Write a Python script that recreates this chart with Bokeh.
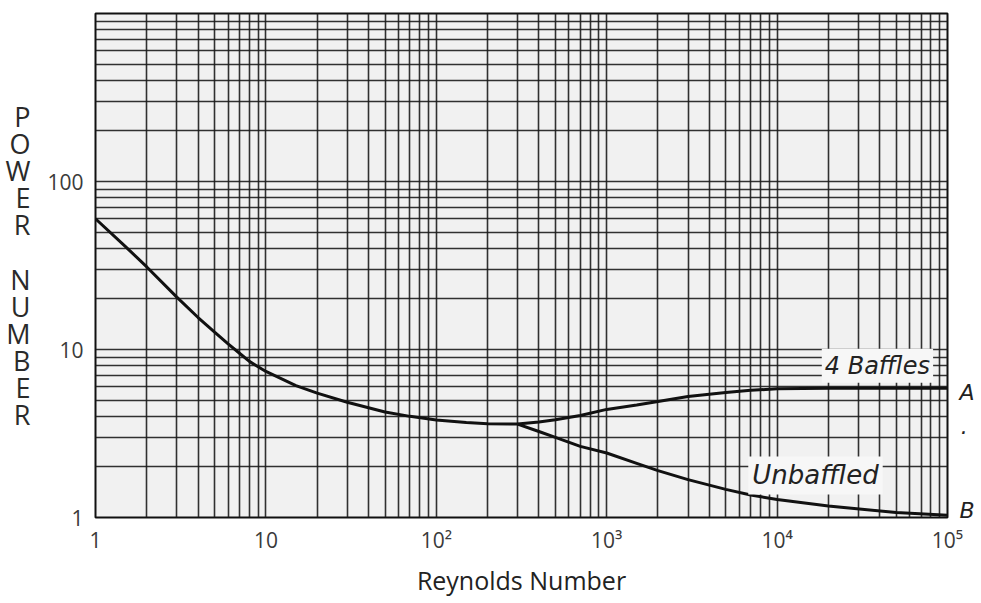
from bokeh.plotting import figure
from bokeh.models import Range1d, FixedTicker, Label, LogAxis
from bokeh.embed import file_html
from bokeh.resources import INLINE

# ---- data ----
re_common = [1, 1.5, 2, 3, 4, 5, 6, 7, 8, 10, 15, 20, 30, 50, 70, 100, 150, 200, 300]
np_common = [60, 41, 31, 20.5, 15.5, 12.7, 10.8, 9.5, 8.5, 7.4, 6.1, 5.5, 4.85, 4.25,
             4.0, 3.8, 3.68, 3.62, 3.6]

re_branch = [300, 400, 500, 700, 1000, 1500, 2000, 3000, 5000, 7000, 10000, 20000,
             50000, 100000]
np_baffled = [3.6, 3.7, 3.82, 4.05, 4.4, 4.68, 4.9, 5.25, 5.55, 5.72, 5.83, 5.88,
              5.88, 5.88]
np_unbaffled = [3.6, 3.25, 3.0, 2.65, 2.42, 2.1, 1.9, 1.68, 1.47, 1.36, 1.28, 1.17,
                1.07, 1.03]

x_ticks = [1, 10, 100, 1000, 10000, 100000]
x_tick_labels = ["1", "10", "10²", "10³", "10⁴", "10⁵"]
y_ticks = [1, 10, 100]
y_tick_labels = ["1", "10", "100"]

# end-of-curve markers on the right edge
end_ticks = [5.55, 3.2, 1.1]
end_labels = ["A", "·", "B"]

x_title = "Reynolds Number"
y_title = "POWER NUMBER"

FONT = "Open Sans"

p = figure(width=980, height=600, x_axis_type="log", y_axis_type="log",
           x_range=Range1d(1, 100000), y_range=Range1d(1, 1000),
           output_backend="svg", toolbar_location=None,
           min_border_left=95, min_border_right=33, min_border_top=13,
           min_border_bottom=83)

p.background_fill_color = "#f1f1f1"
p.border_fill_color = "white"
p.outline_line_color = "#111111"
p.outline_line_width = 2

# log-paper grid: 1..9 in every decade
xgrid_vals = [m * 10 ** k for k in range(5) for m in range(1, 10)] + [100000]
ygrid_vals = [m * 10 ** k for k in range(3) for m in range(1, 10)] + [1000]
p.xgrid.ticker = FixedTicker(ticks=xgrid_vals)
p.ygrid.ticker = FixedTicker(ticks=ygrid_vals)
for g in (p.xgrid, p.ygrid):
    g.grid_line_color = "#1c1c1c"
    g.grid_line_width = 1.6
    g.grid_line_alpha = 0.9
    g.minor_grid_line_color = None

right_axis = LogAxis(ticker=FixedTicker(ticks=end_ticks),
                     major_label_overrides={t: s for t, s in zip(end_ticks, end_labels)})
p.add_layout(right_axis, "right")

# axes
p.xaxis.ticker = FixedTicker(ticks=x_ticks)
p.xaxis.major_label_overrides = {t: s for t, s in zip(x_ticks, x_tick_labels)}
p.yaxis[0].ticker = FixedTicker(ticks=y_ticks)
p.yaxis[0].major_label_overrides = {t: s for t, s in zip(y_ticks, y_tick_labels)}
for ax in list(p.xaxis) + list(p.yaxis):
    ax.axis_line_color = None
    ax.major_tick_line_color = None
    ax.minor_tick_line_color = None
    ax.major_tick_out = 0
    ax.major_tick_in = 0
    ax.minor_tick_out = 0
    ax.minor_tick_in = 0
    ax.major_label_text_font = FONT
    ax.major_label_text_font_size = "21px"
    ax.major_label_text_color = "#3a3a3a"
    ax.major_label_standoff = 8
p.yaxis[0].major_label_standoff = 12

right_axis.major_label_text_font = "DejaVu Sans"
right_axis.major_label_text_font_style = "italic"
right_axis.major_label_text_font_size = "22px"
right_axis.major_label_text_color = "#222222"
right_axis.major_label_standoff = 12

p.xaxis.axis_label = x_title
p.xaxis.axis_label_text_font = FONT
p.xaxis.axis_label_text_font_size = "25px"
p.xaxis.axis_label_text_font_style = "normal"
p.xaxis.axis_label_text_color = "#222222"
p.xaxis.axis_label_standoff = 6

# vertical stacked y title
yax = p.yaxis[0]
yax.axis_label = "\n".join(list(y_title))
yax.axis_label_orientation = "horizontal"
yax.axis_label_text_font = FONT
yax.axis_label_text_font_size = "27px"
yax.axis_label_text_font_style = "normal"
yax.axis_label_text_color = "#2a2a2a"
yax.axis_label_text_line_height = 0.73
yax.axis_label_text_align = "center"
yax.axis_label_standoff = 14

# curves
p.line(re_common, np_common, line_color="#111111", line_width=3)
p.line(re_branch, np_baffled, line_color="#111111", line_width=3)
p.line(re_branch, np_unbaffled, line_color="#111111", line_width=3)

# curve annotations
p.add_layout(Label(x=38800, y=8.0, text="4 Baffles", text_font="DejaVu Sans",
                   text_font_style="italic", text_font_size="24px",
                   text_color="#222222", text_align="center", text_baseline="middle",
                   background_fill_color="#f7f7f7", padding=3))
p.add_layout(Label(x=16800, y=1.78, text="Unbaffled", text_font="DejaVu Sans",
                   text_font_style="italic", text_font_size="26px",
                   text_color="#222222", text_align="center", text_baseline="middle",
                   background_fill_color="#f7f7f7", padding=4))

open("out.html", "w").write(file_html(p, INLINE))
